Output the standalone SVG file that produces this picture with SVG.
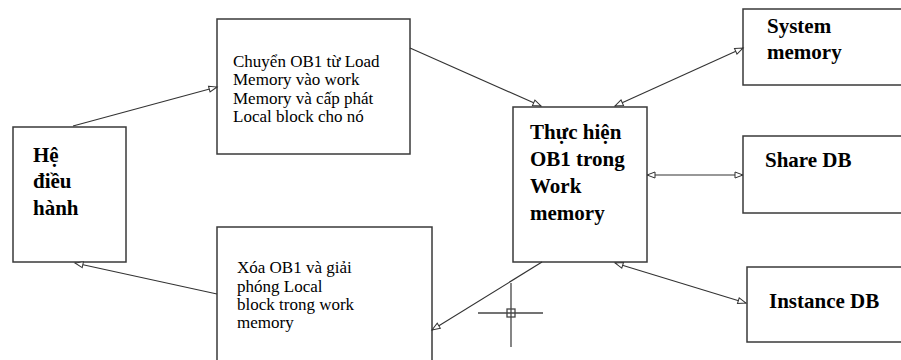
<svg xmlns="http://www.w3.org/2000/svg" width="901" height="360" viewBox="0 0 901 360">
<style>
.box{fill:#fff;stroke:#3a3a3a;stroke-width:1.5}
.big{font-family:"Liberation Serif","Times New Roman",serif;font-size:21px;font-weight:bold;fill:#000}
.small{font-family:"Liberation Serif","Times New Roman",serif;font-size:17px;fill:#000}
.conn{fill:none;stroke:#333;stroke-width:1.1}
.one{marker-end:url(#ah)}
.two{marker-start:url(#ah);marker-end:url(#ah)}
</style>
<defs>
<marker id="ah" markerUnits="userSpaceOnUse" markerWidth="11" markerHeight="9" refX="9" refY="4" orient="auto-start-reverse">
<path d="M1,1 L9,4 L1,7 z" fill="#fff" stroke="#333" stroke-width="1"/>
</marker>
</defs>
<rect width="901" height="360" fill="#fff"/>
<g id="n1">
<rect class="box" x="13" y="127" width="113" height="135"/>
<text class="big" x="33" y="162">Hệ</text>
<text class="big" x="33" y="188">điều</text>
<text class="big" x="33" y="215">hành</text>
</g>
<g id="n2">
<rect class="box" x="217" y="19" width="193" height="135"/>
<text class="small" x="233" y="67">Chuyển OB1 từ Load</text>
<text class="small" x="233" y="85">Memory vào work</text>
<text class="small" x="233" y="104">Memory và cấp phát</text>
<text class="small" x="233" y="122">Local block cho nó</text>
</g>
<g id="n3">
<rect class="box" x="217" y="227" width="215" height="140"/>
<text class="small" x="237" y="273">Xóa OB1 và giải</text>
<text class="small" x="237" y="292">phóng Local</text>
<text class="small" x="237" y="310">block trong work</text>
<text class="small" x="237" y="328">memory</text>
</g>
<g id="n4">
<rect class="box" x="513" y="107" width="134" height="155"/>
<text class="big" x="530" y="139">Thực hiện</text>
<text class="big" x="530" y="166">OB1 trong</text>
<text class="big" x="530" y="193">Work</text>
<text class="big" x="530" y="220">memory</text>
</g>
<g id="n5">
<rect class="box" x="743" y="9" width="170" height="76"/>
<text class="big" x="767" y="33">System</text>
<text class="big" x="767" y="59">memory</text>
</g>
<g id="n6">
<rect class="box" x="743" y="136" width="170" height="77"/>
<text class="big" x="765" y="167">Share DB</text>
</g>
<g id="n7">
<rect class="box" x="747" y="267" width="170" height="75"/>
<text class="big" x="769" y="308">Instance DB</text>
</g>
<g id="connectors">
<line class="conn one" x1="73" y1="126" x2="217" y2="87"/>
<line class="conn one" x1="217" y1="294" x2="75" y2="263"/>
<line class="conn one" x1="410" y1="48" x2="541" y2="106"/>
<line class="conn one" x1="542" y1="262" x2="432" y2="330"/>
<line class="conn two" x1="615" y1="106" x2="743" y2="48"/>
<line class="conn two" x1="647" y1="175" x2="743" y2="175"/>
<line class="conn two" x1="615" y1="263" x2="746" y2="303"/>
</g>
<g id="cursor" stroke="#444" stroke-width="1.3" fill="none">
<line x1="511" y1="283" x2="511" y2="347"/>
<line x1="478" y1="313" x2="543" y2="313"/>
<rect x="507" y="309" width="8" height="8"/>
</g>
</svg>
